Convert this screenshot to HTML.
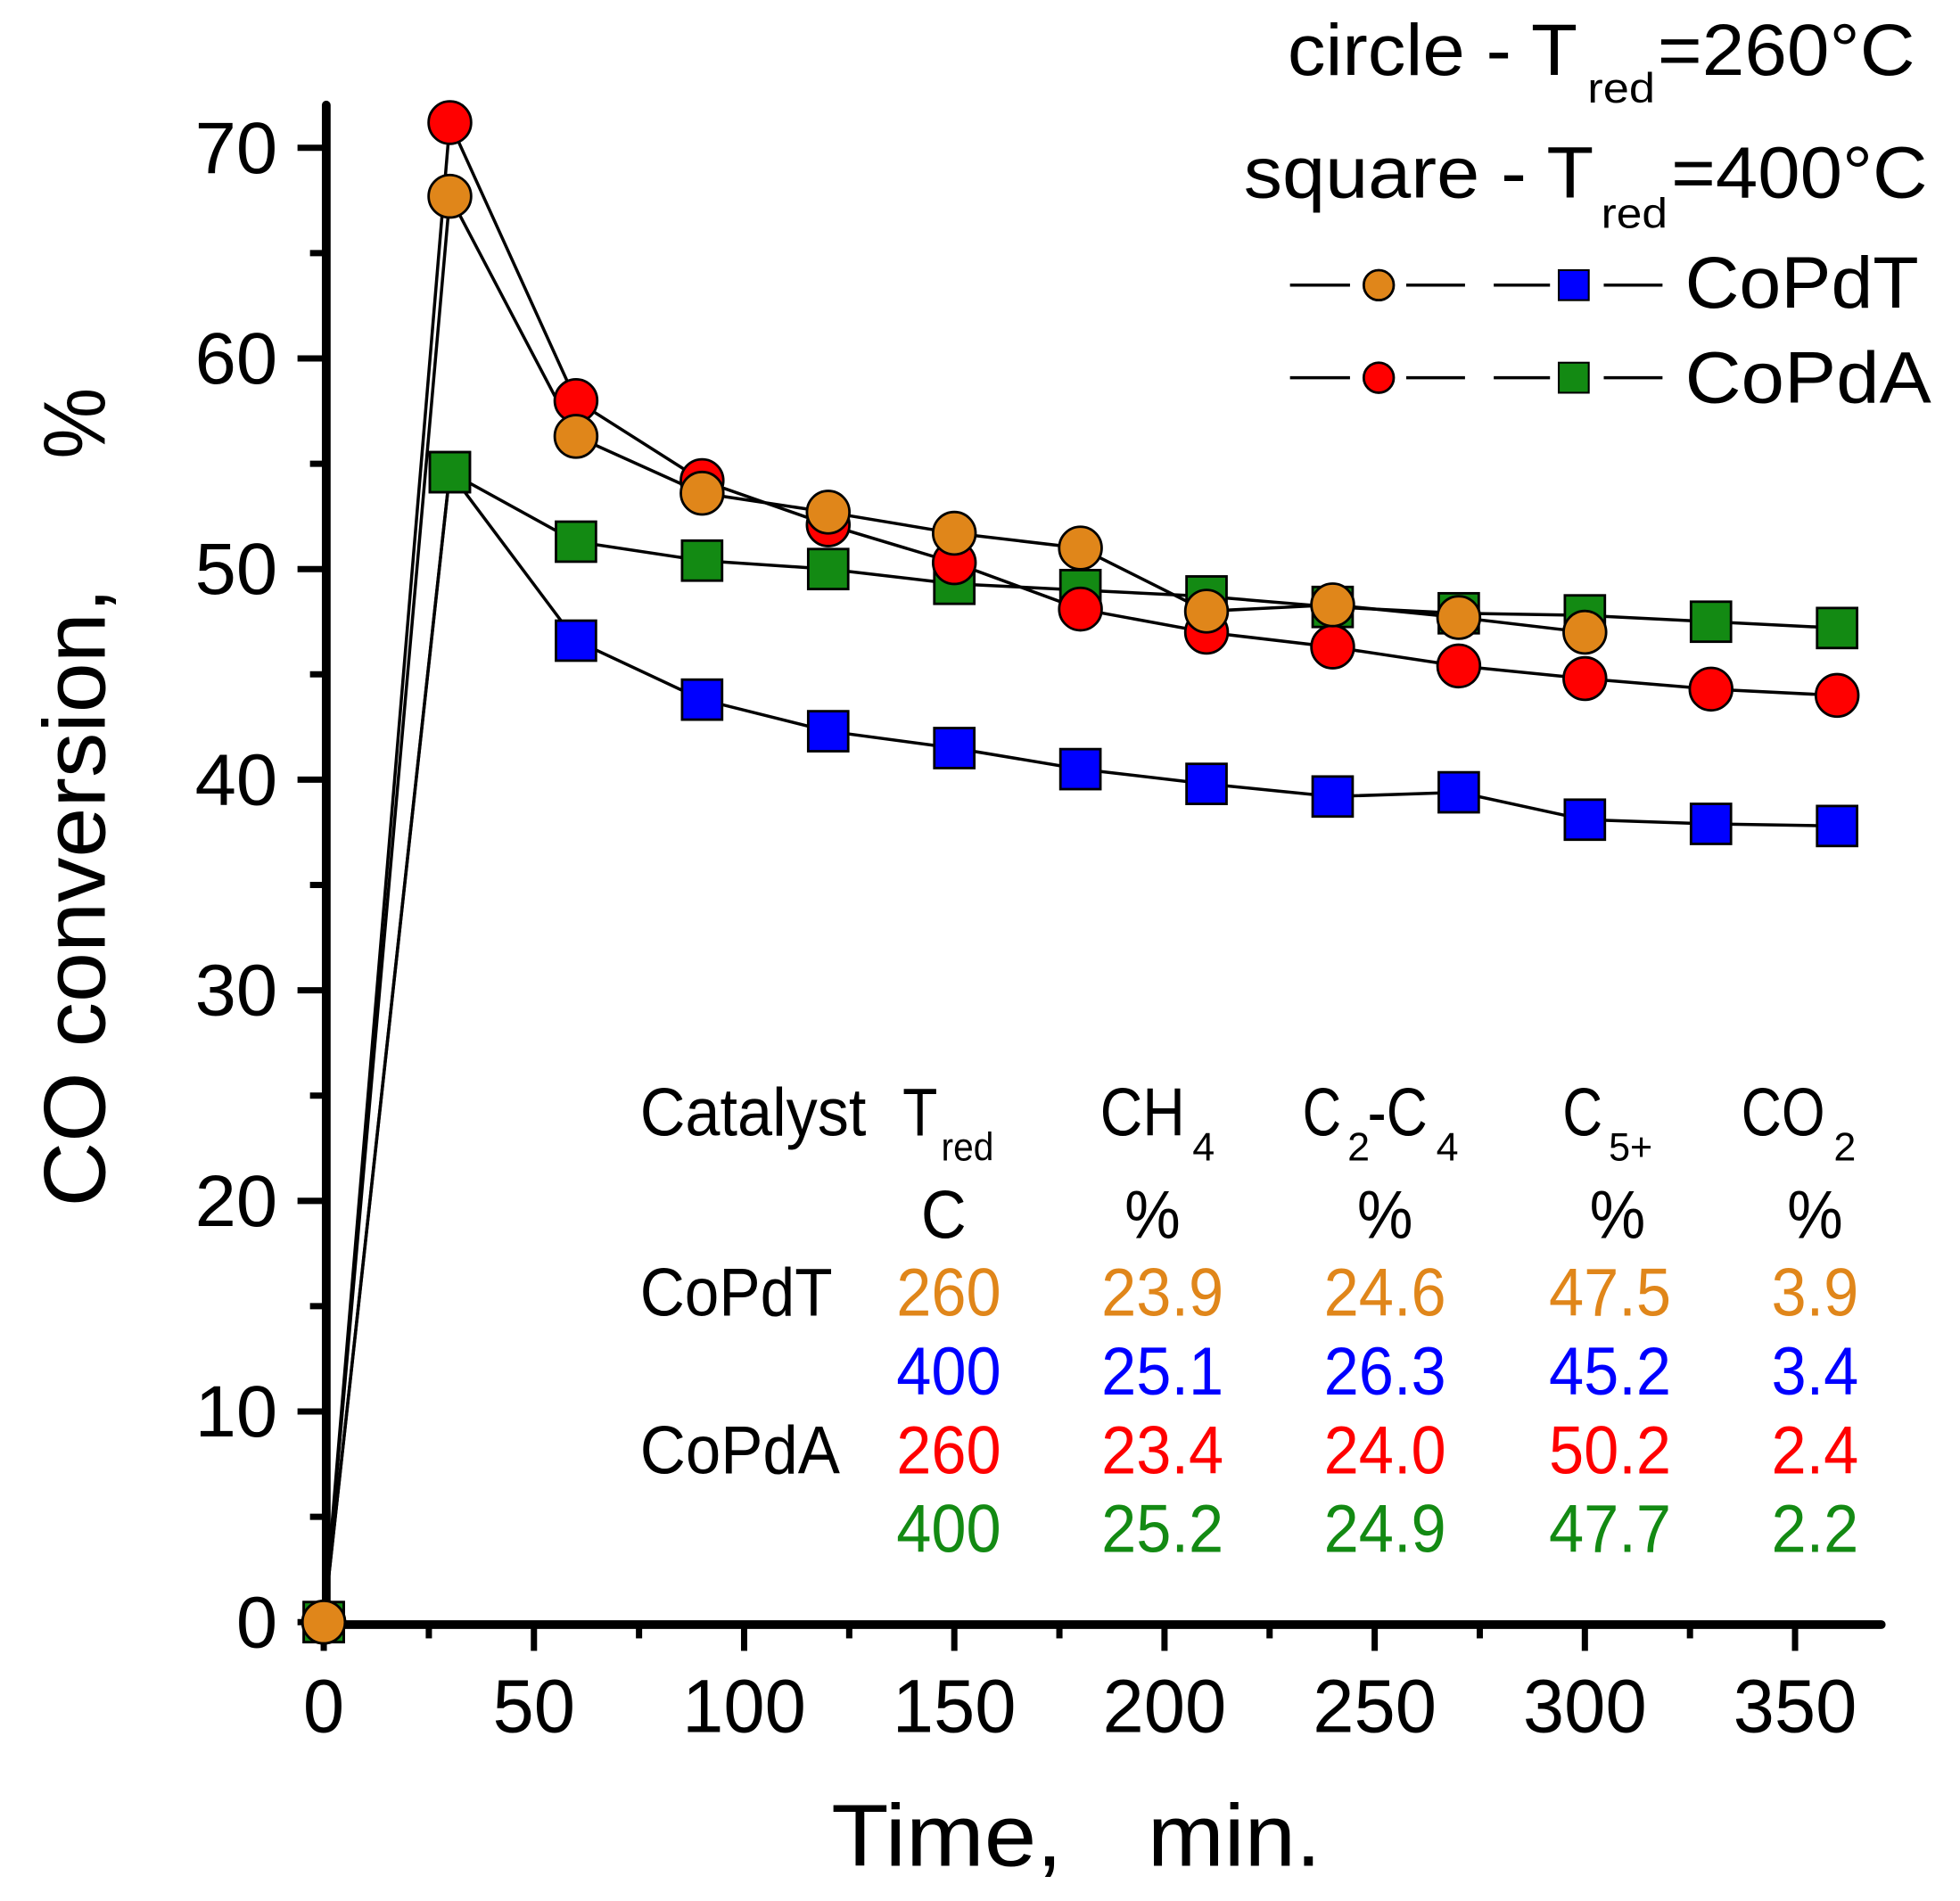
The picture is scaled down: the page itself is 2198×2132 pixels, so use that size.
<!DOCTYPE html>
<html><head><meta charset="utf-8"><style>html,body{margin:0;padding:0;background:#fff}svg{display:block}
.sq{transform-box:fill-box;transform-origin:center;transform:scaleX(0.93)}
</style></head>
<body>
<svg xmlns="http://www.w3.org/2000/svg" width="2198" height="2132" viewBox="0 0 1568 1520" preserveAspectRatio="none" font-family="Liberation Sans, Arial, sans-serif">
<rect width="1568" height="1520" fill="#fff"/>
<g stroke="#000" stroke-width="7" stroke-linecap="round">
<line x1="261" y1="84" x2="261" y2="1299"/>
<line x1="258" y1="1299" x2="1505" y2="1299"/>
</g>
<g stroke="#000" stroke-width="5" id="ticks"></g>
<g id="lines" fill="none" stroke="#000" stroke-width="2.5"></g>
<g id="marks" stroke="#000" stroke-width="2"></g>
<g font-size="58" fill="#000" text-anchor="end" id="ylab"></g>
<g font-size="60" fill="#000" text-anchor="middle" id="xlab"></g>
<g transform="rotate(-90)" font-size="70">
<text x="-965" y="84" textLength="495" lengthAdjust="spacingAndGlyphs">CO conversion,</text>
<text x="-367" y="84" textLength="57" lengthAdjust="spacingAndGlyphs">%</text>
</g>
<g font-size="70">
<text x="665" y="1492" textLength="185" lengthAdjust="spacingAndGlyphs">Time,</text>
<text x="918" y="1492" textLength="139" lengthAdjust="spacingAndGlyphs">min.</text>
</g>
<g font-size="58" fill="#000">
<text x="1030" y="60" textLength="232" lengthAdjust="spacingAndGlyphs">circle - T</text><text x="1270" y="82" font-size="34" textLength="54" lengthAdjust="spacingAndGlyphs">red</text><text x="1326" y="60" textLength="206" lengthAdjust="spacingAndGlyphs">=260°C</text>
<text x="995" y="158" textLength="280" lengthAdjust="spacingAndGlyphs">square - T</text><text x="1281" y="182" font-size="34" textLength="53" lengthAdjust="spacingAndGlyphs">red</text><text x="1337" y="158" textLength="205" lengthAdjust="spacingAndGlyphs">=400°C</text>
<text x="1348" y="246" textLength="187" lengthAdjust="spacingAndGlyphs">CoPdT</text>
<text x="1348" y="322" textLength="197" lengthAdjust="spacingAndGlyphs">CoPdA</text>
</g>
<g stroke="#000" stroke-width="2.5">
<path d="M1032 228H1080M1125 228H1172M1195 228H1240M1283 228H1330"/>
<path d="M1032 302H1080M1125 302H1172M1195 302H1240M1283 302H1330"/>
</g>
<circle cx="1103" cy="228" r="12" fill="#e0861a" stroke="#000" stroke-width="2"/>
<rect x="1247" y="216" width="24" height="24" fill="#0000ff" stroke="#000" stroke-width="1.5"/>
<circle cx="1103" cy="302" r="12" fill="#ff0000" stroke="#000" stroke-width="2"/>
<rect x="1247" y="290" width="24" height="24" fill="#138a13" stroke="#000" stroke-width="1.5"/>
<g font-size="54" fill="#000">
<text x="512" y="908" textLength="181" lengthAdjust="spacingAndGlyphs">Catalyst</text>
<text x="722" y="908" textLength="28" lengthAdjust="spacingAndGlyphs">T</text><text x="753" y="928" font-size="32" textLength="42" lengthAdjust="spacingAndGlyphs">red</text>
<text x="880" y="908" textLength="68" lengthAdjust="spacingAndGlyphs">CH</text><text x="954" y="928" font-size="32">4</text>
<text x="1042" y="908" textLength="31" lengthAdjust="spacingAndGlyphs">C</text><text x="1078" y="928" font-size="32">2</text><text x="1094" y="908" textLength="48" lengthAdjust="spacingAndGlyphs">-C</text><text x="1149" y="928" font-size="32">4</text>
<text x="1250" y="908" textLength="32" lengthAdjust="spacingAndGlyphs">C</text><text x="1287" y="928" font-size="32" textLength="35" lengthAdjust="spacingAndGlyphs">5+</text>
<text x="1393" y="908" textLength="67" lengthAdjust="spacingAndGlyphs">CO</text><text x="1467" y="928" font-size="32">2</text>
<text x="755" y="990" text-anchor="middle" class="sq">C</text>
<text x="922" y="990" text-anchor="middle" class="sq">%</text>
<text x="1108" y="990" text-anchor="middle" class="sq">%</text>
<text x="1294" y="990" text-anchor="middle" class="sq">%</text>
<text x="1452" y="990" text-anchor="middle" class="sq">%</text>
<text x="512" y="1052" textLength="154" lengthAdjust="spacingAndGlyphs">CoPdT</text>
<text x="512" y="1178" textLength="160" lengthAdjust="spacingAndGlyphs">CoPdA</text>
</g>
<g font-size="54" text-anchor="middle">
<g fill="#e0861a"><text class="sq" x="759" y="1052">260</text><text class="sq" x="930" y="1052">23.9</text><text class="sq" x="1108" y="1052">24.6</text><text class="sq" x="1288" y="1052">47.5</text><text class="sq" x="1452" y="1052">3.9</text></g>
<g fill="#0000ff"><text class="sq" x="759" y="1115">400</text><text class="sq" x="930" y="1115">25.1</text><text class="sq" x="1108" y="1115">26.3</text><text class="sq" x="1288" y="1115">45.2</text><text class="sq" x="1452" y="1115">3.4</text></g>
<g fill="#ff0000"><text class="sq" x="759" y="1178">260</text><text class="sq" x="930" y="1178">23.4</text><text class="sq" x="1108" y="1178">24.0</text><text class="sq" x="1288" y="1178">50.2</text><text class="sq" x="1452" y="1178">2.4</text></g>
<g fill="#138a13"><text class="sq" x="759" y="1241">400</text><text class="sq" x="930" y="1241">25.2</text><text class="sq" x="1108" y="1241">24.9</text><text class="sq" x="1288" y="1241">47.7</text><text class="sq" x="1452" y="1241">2.2</text></g>
</g>
<script>
var NS="http://www.w3.org/2000/svg";
function X(t){return 259+t*3.363}function Y(v){return 1297-v*16.84}
function el(p,n,a,txt){var e=document.createElementNS(NS,n);for(var k in a)e.setAttribute(k,a[k]);if(txt!=null)e.textContent=txt;document.getElementById(p).appendChild(e);return e}
for(var v=0;v<=70;v+=5){var y=Y(v);el("ticks","line",{x1:v%10?248:238,y1:y,x2:261,y2:y});if(v%10==0){var s=String(v);el("ylab","text",{x:222,y:y+20,textLength:s.length*33,lengthAdjust:"spacingAndGlyphs"},s)}}
for(var t=0;t<=350;t+=25){var x=X(t);el("ticks","line",{x1:x,y1:1299,x2:x,y2:t%50?1310:1320});if(t%50==0){var s=String(t);el("xlab","text",{x:x,y:1385,textLength:s.length*33,lengthAdjust:"spacingAndGlyphs"},s)}}
var T=[0,30,60,90,120,150,180,210,240,270,300,330,360];
var S={
b:{c:"#0000ff",sq:1,d:[0,54.6,46.6,43.8,42.3,41.5,40.5,39.8,39.2,39.4,38.1,37.9,37.8]},
g:{c:"#138a13",sq:1,d:[0,54.6,51.3,50.4,50.0,49.3,49.0,48.7,48.2,47.9,47.8,47.5,47.2]},
r:{c:"#ff0000",sq:0,d:[0,71.2,58,54.2,52.1,50.3,48.1,47,46.3,45.4,44.8,44.3,44.0]},
o:{c:"#e0861a",sq:0,d:[0,67.7,56.3,53.6,52.7,51.7,51.0,48.0,48.3,47.7,47.0]}};
["b","g","r","o"].forEach(function(k){var s=S[k],pts=s.d.map(function(v,i){return X(T[i])+","+Y(v)}).join(" ");el("lines","polyline",{points:pts})});
["b","g","r","o"].forEach(function(k){var s=S[k];s.d.forEach(function(v,i){var x=X(T[i]),y=Y(v);if(s.sq)el("marks","rect",{x:x-16,y:y-16,width:32,height:32,fill:s.c});else el("marks","circle",{cx:x,cy:y,r:17,fill:s.c})})});
</script>
</svg>
</body></html>
